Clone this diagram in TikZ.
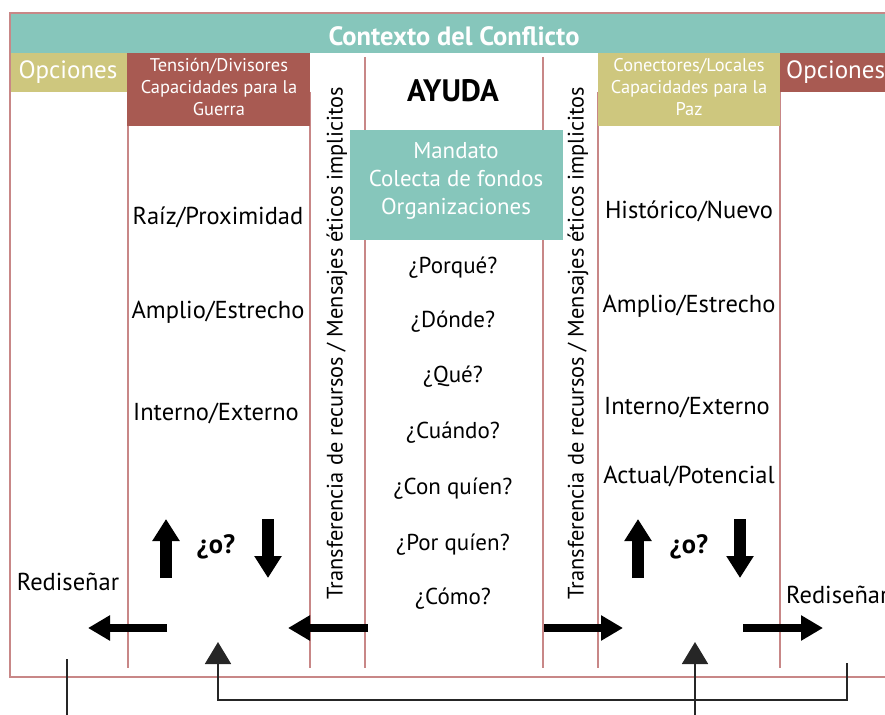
\documentclass[tikz,border=0pt]{standalone}
\usepackage{fontspec}
\setmainfont{PT Sans}
\usetikzlibrary{arrows.meta}
\definecolor{tealc}{RGB}{134,198,187}
\definecolor{olivec}{RGB}{206,199,126}
\definecolor{redc}{RGB}{168,90,82}
\definecolor{linec}{RGB}{200,135,135}
\begin{document}
\begin{tikzpicture}[x=1pt,y=-1pt,
  txt/.style={inner sep=0pt, font=\fontsize{24.5}{28}\selectfont},
  qtxt/.style={inner sep=0pt, font=\fontsize{23}{27}\selectfont},
  head/.style={inner sep=0pt, text=white, align=center, font=\fontsize{18.4}{22}\selectfont},
  sep/.style={draw=linec, line width=1.5pt},
  harrow/.style={line width=8pt, -{Triangle[length=22pt,width=24pt]}},
  varrow/.style={line width=12pt, -{Triangle[length=22pt,width=26pt]}},
  thin/.style={line width=1.8pt, draw=black!85},
  thinarrow/.style={thin, -{Triangle[length=22pt,width=26pt]}}]
\useasboundingbox (0,0) rectangle (885,714);
\clip (0,0) rectangle (885,714);
% frame
\draw[linec, line width=2pt] (10,13) rectangle (905,677);
\fill[tealc] (11,14) rectangle (904,53);
% separators
\draw[sep] (128,92) -- (128,668);
\draw[sep] (310,92) -- (310,668);
\draw[sep] (365,57) -- (365,668);
\draw[sep] (543,57) -- (543,668);
\draw[sep] (598,92) -- (598,668);
\draw[sep] (780,92) -- (780,668);
% header boxes
\fill[olivec] (11,53) rectangle (127,92);
\fill[redc] (127,53) rectangle (310,126);
\fill[olivec] (598,53) rectangle (780,126);
\fill[redc] (780,53) rectangle (904,92);
\fill[tealc] (350,130) rectangle (563,240);
% header texts
\node[inner sep=0pt, text=white, font=\bfseries\fontsize{26.5}{30}\selectfont] (ctx) at (454,36) {Contexto del Conflicto};
\node[inner sep=0pt, text=white, font=\fontsize{25}{29}\selectfont] (opl) at (68,72) {Opciones};
\node[inner sep=0pt, text=white, font=\fontsize{25}{29}\selectfont, anchor=west] (opr) at (786,72) {Opciones};
\node[head] (tens) at (219,87) {Tensión/Divisores\\Capacidades para la\\Guerra};
\node[head] (conn) at (689,87) {Conectores/Locales\\Capacidades para la\\Paz};
\node[inner sep=0pt, font=\bfseries\fontsize{31}{35}\selectfont] (ayuda) at (453,91) {AYUDA};
\node[inner sep=0pt, text=white, align=center, font=\fontsize{22.9}{28}\selectfont] (mand) at (456,181) {Mandato\\Colecta de fondos\\Organizaciones};
% left column
\node[txt] (l1) at (218,217) {Raíz/Proximidad};
\node[txt] (l2) at (218,312) {Amplio/Estrecho};
\node[txt] (l3) at (216,413) {Interno/Externo};
% right column
\node[txt] (r1) at (689,211) {Histórico/Nuevo};
\node[txt] (r2) at (689,306) {Amplio/Estrecho};
\node[txt] (r3) at (687,407) {Interno/Externo};
\node[txt] (r4) at (689,476) {Actual/Potencial};
% middle questions
\node[qtxt] (q1) at (453,268) {¿Porqué?};
\node[qtxt] (q2) at (453,322) {¿Dónde?};
\node[qtxt] (q3) at (453,377) {¿Qué?};
\node[qtxt] (q4) at (453,433) {¿Cuándo?};
\node[qtxt] (q5) at (453,489) {¿Con quíen?};
\node[qtxt] (q6) at (453,545) {¿Por quíen?};
\node[qtxt] (q7) at (453,599) {¿Cómo?};
% vertical texts
\node[inner sep=0pt, font=\fontsize{22.4}{26}\selectfont, rotate=90] (vt1) at (337,343) {Transferencia de recursos / Mensajes éticos implicitos};
\node[inner sep=0pt, font=\fontsize{22.4}{26}\selectfont, rotate=90] (vt2) at (578,343) {Transferencia de recursos / Mensajes éticos implicitos};
% o?
\node[inner sep=0pt, font=\bfseries\fontsize{26.5}{30}\selectfont] (ol) at (216,547) {¿o?};
\node[inner sep=0pt, font=\bfseries\fontsize{26.5}{30}\selectfont] (or) at (689,547) {¿o?};
\node[txt] (redl) at (68,582) {Rediseñar};
\node[txt, anchor=west] (redr) at (786,595) {Rediseñar};
% block arrows
\coordinate (ua1s) at (166,578); \coordinate (ua1e) at (166,519);
\coordinate (da1s) at (268,519); \coordinate (da1e) at (268,578);
\coordinate (ua2s) at (638,578); \coordinate (ua2e) at (638,519);
\coordinate (da2s) at (740,519); \coordinate (da2e) at (740,578);
\draw[varrow] (ua1s) -- (ua1e);
\draw[varrow] (da1s) -- (da1e);
\draw[varrow] (ua2s) -- (ua2e);
\draw[varrow] (da2s) -- (da2e);
\coordinate (la1s) at (167,628); \coordinate (la1e) at (88,628);
\coordinate (la2s) at (368,628); \coordinate (la2e) at (288,628);
\coordinate (ra1s) at (544,628); \coordinate (ra1e) at (623,628);
\coordinate (ra2s) at (743,628); \coordinate (ra2e) at (823,628);
\draw[harrow] (la1s) -- (la1e);
\draw[harrow] (la2s) -- (la2e);
\draw[harrow] (ra1s) -- (ra1e);
\draw[harrow] (ra2s) -- (ra2e);
% bottom loop
\coordinate (b1t) at (67,659); \coordinate (b1b) at (67,720);
\coordinate (b2s) at (847,663); \coordinate (b2c) at (847,700);
\coordinate (b2d) at (218,700); \coordinate (b2e) at (218,642);
\coordinate (b3s) at (695,720); \coordinate (b3e) at (695,642);
\draw[thin] (b1t) -- (b1b);
\draw[thinarrow] (b2s) -- (b2c) -- (b2d) -- (b2e);
\draw[thinarrow] (b3s) -- (b3e);
\end{tikzpicture}
\end{document}
